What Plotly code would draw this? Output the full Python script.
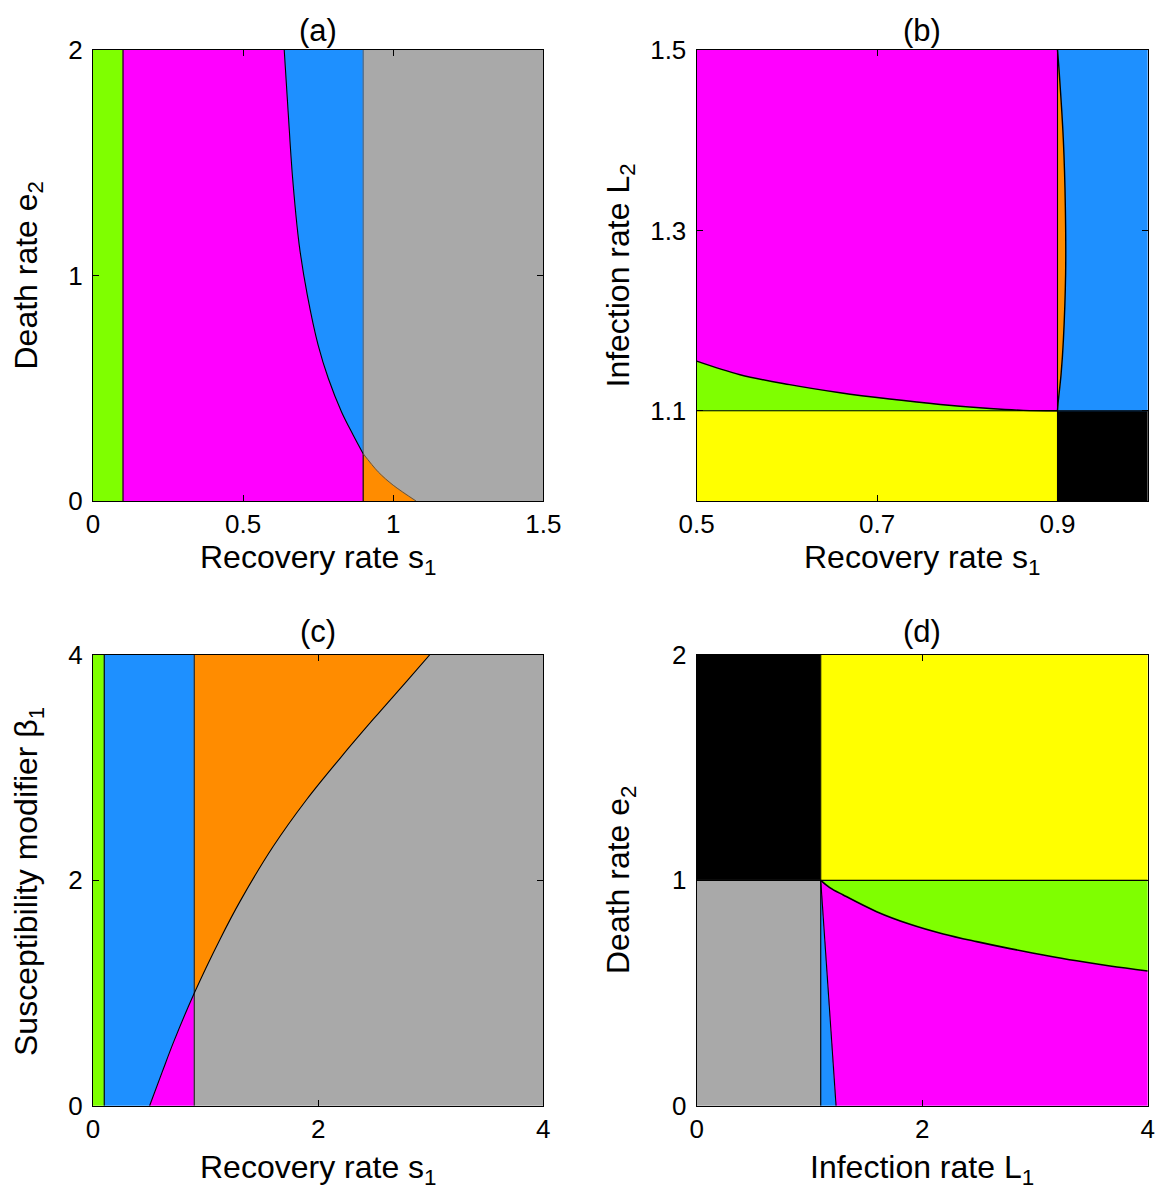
import plotly.graph_objects as go

# ---------------- data ----------------
# Panel (a): Recovery rate s1 vs Death rate e2
a_green_edge = 0.1
a_split = 0.9
a_curve_s1 = [0.637, 0.650, 0.665, 0.687, 0.714, 0.750, 0.784, 0.828, 0.867, 0.900]
a_curve_e2 = [2.000, 1.727, 1.431, 1.135, 0.913, 0.691, 0.543, 0.395, 0.292, 0.210]
a_tail_s1 = [0.900, 0.950, 1.000, 1.076]
a_tail_e2 = [0.210, 0.129, 0.070, 0.000]

# Panel (b): Recovery rate s1 vs Infection rate L2
b_split_s1 = 0.9
b_split_L2 = 1.1
b_curve_s1 = [0.500, 0.548, 0.603, 0.659, 0.714, 0.770, 0.825, 0.862, 0.900]
b_curve_L2 = [1.155, 1.140, 1.129, 1.120, 1.113, 1.107, 1.1025, 1.1005, 1.100]
b_lens_s1 = [0.900, 0.902, 0.9065, 0.9087, 0.909, 0.9065, 0.904, 0.9006, 0.900]
b_lens_L2 = [1.500, 1.474, 1.400, 1.326, 1.252, 1.178, 1.141, 1.108, 1.100]

# Panel (c): Recovery rate s1 vs Susceptibility modifier beta1
c_green_edge = 0.1
c_split = 0.9
c_curve_s1 = [0.503, 0.615, 0.720, 0.900, 1.130, 1.310, 1.600, 1.900, 2.200, 2.490, 2.780, 2.990]
c_curve_b1 = [0.000, 0.300, 0.575, 1.000, 1.480, 1.820, 2.300, 2.720, 3.090, 3.430, 3.760, 4.000]

# Panel (d): Infection rate L1 vs Death rate e2
d_split_L1 = 1.1
d_split_e2 = 1.0
d_sliver_L1 = 1.236
d_curve_L1 = [1.100, 1.180, 1.300, 1.596, 1.892, 2.187, 2.483, 2.779, 3.074, 3.370, 3.666, 4.000]
d_curve_e2 = [1.000, 0.968, 0.935, 0.861, 0.805, 0.762, 0.728, 0.697, 0.669, 0.643, 0.620, 0.598]

# axis ranges / ticks
a_xrange, a_yrange = [0, 1.5], [0, 2]
b_xrange, b_yrange = [0.5, 1.0], [1.0, 1.5]
c_xrange, c_yrange = [0, 4], [0, 4]
d_xrange, d_yrange = [0, 4], [0, 2]
a_xticks, a_xlabels = [0, 0.5, 1, 1.5], ["0", "0.5", "1", "1.5"]
a_yticks, a_ylabels = [0, 1, 2], ["0", "1", "2"]
b_xticks, b_xlabels = [0.5, 0.7, 0.9], ["0.5", "0.7", "0.9"]
b_yticks, b_ylabels = [1.1, 1.3, 1.5], ["1.1", "1.3", "1.5"]
c_xticks, c_xlabels = [0, 2, 4], ["0", "2", "4"]
c_yticks, c_ylabels = [0, 2, 4], ["0", "2", "4"]
d_xticks, d_xlabels = [0, 2, 4], ["0", "2", "4"]
d_yticks, d_ylabels = [0, 1, 2], ["0", "1", "2"]

GREEN = "#7FFF00"
MAGENTA = "#FF00FF"
BLUE = "#1E90FF"
GRAY = "#A9A9A9"
ORANGE = "#FF8C00"
YELLOW = "#FFFF00"
BLACK = "#000000"

fig = go.Figure()


def ax(n):
    return ("x" if n == 1 else f"x{n}"), ("y" if n == 1 else f"y{n}")


def poly(xs, ys, color, n):
    xa, ya = ax(n)
    fig.add_trace(go.Scatter(
        x=list(xs) + [xs[0]], y=list(ys) + [ys[0]], mode="lines", fill="toself",
        fillcolor=color, line=dict(color=color, width=0.6), hoverinfo="skip",
        showlegend=False, xaxis=xa, yaxis=ya))


def edge(xs, ys, n, smooth=False, color="black", width=1.1):
    xa, ya = ax(n)
    fig.add_trace(go.Scatter(
        x=list(xs), y=list(ys), mode="lines",
        line=dict(color=color, width=width, shape="spline" if smooth else "linear"),
        hoverinfo="skip", showlegend=False, xaxis=xa, yaxis=ya))


rev = lambda v: list(reversed(v))

# ---- panel (a)
x0, x1 = a_xrange
y0, y1 = a_yrange
poly([x0, a_green_edge, a_green_edge, x0], [y0, y0, y1, y1], GREEN, 1)
poly([a_green_edge, a_green_edge] + a_curve_s1 + [a_split],
     [y0, y1] + a_curve_e2 + [y0], MAGENTA, 1)
poly(a_curve_s1 + [a_split], a_curve_e2 + [y1], BLUE, 1)
poly(a_tail_s1 + [x1, x1, a_split], a_tail_e2 + [y0, y1, y1], GRAY, 1)
poly([a_split] + a_tail_s1, [y0] + a_tail_e2, ORANGE, 1)
edge([a_green_edge, a_green_edge], [y0, y1], 1)
edge([a_split, a_split], [y0, a_curve_e2[-1]], 1)
edge([a_split, a_split], [a_curve_e2[-1], y1], 1, color="#3a5a7a", width=1)
edge(a_curve_s1, a_curve_e2, 1, smooth=True)
edge(a_tail_s1, a_tail_e2, 1, smooth=True, color="#555555", width=1)

# ---- panel (b)
x0, x1 = b_xrange
y0, y1 = b_yrange
poly([x0, b_split_s1, b_split_s1, x0], [y0, y0, b_split_L2, b_split_L2], YELLOW, 2)
poly([b_split_s1, x1, x1, b_split_s1], [y0, y0, b_split_L2, b_split_L2], BLACK, 2)
poly([x0] + b_curve_s1, [b_split_L2] + b_curve_L2, GREEN, 2)
poly(b_curve_s1 + [b_split_s1, x0], b_curve_L2 + [y1, y1], MAGENTA, 2)
poly(b_lens_s1 + [x1, x1], b_lens_L2 + [b_split_L2, y1], BLUE, 2)
poly(b_lens_s1 + [b_split_s1], b_lens_L2 + [y1], ORANGE, 2)
edge([x0, x1], [b_split_L2, b_split_L2], 2)
edge([b_split_s1, b_split_s1], [y0, y1], 2)
edge(b_curve_s1, b_curve_L2, 2, smooth=True, width=1.4)
edge(b_lens_s1, b_lens_L2, 2, smooth=True, width=1.4)

# ---- panel (c)
x0, x1 = c_xrange
y0, y1 = c_yrange
ci = c_curve_s1.index(c_split)
poly([x0, c_green_edge, c_green_edge, x0], [y0, y0, y1, y1], GREEN, 3)
poly([c_green_edge, c_green_edge, c_split] + rev(c_curve_s1[:ci + 1]),
     [y0, y1, y1] + rev(c_curve_b1[:ci + 1]), BLUE, 3)
poly(c_curve_s1[:ci + 1] + [c_split], c_curve_b1[:ci + 1] + [y0], MAGENTA, 3)
poly(c_curve_s1[ci:] + [c_split], c_curve_b1[ci:] + [y1], ORANGE, 3)
poly([c_split] + c_curve_s1[ci:] + [x1, x1], [y0] + c_curve_b1[ci:] + [y1, y0], GRAY, 3)
edge([c_green_edge, c_green_edge], [y0, y1], 3)
edge([c_split, c_split], [y0, y1], 3, color="#333333", width=1.3)
edge(c_curve_s1, c_curve_b1, 3, smooth=True)

# ---- panel (d)
x0, x1 = d_xrange
y0, y1 = d_yrange
poly([x0, d_split_L1, d_split_L1, x0], [d_split_e2, d_split_e2, y1, y1], BLACK, 4)
poly([d_split_L1, x1, x1, d_split_L1], [d_split_e2, d_split_e2, y1, y1], YELLOW, 4)
poly([x0, d_split_L1, d_split_L1, x0], [y0, y0, d_split_e2, d_split_e2], GRAY, 4)
poly([d_split_L1, d_sliver_L1, d_split_L1], [y0, y0, d_split_e2], BLUE, 4)
poly([d_sliver_L1, x1] + rev(d_curve_L1), [y0, y0] + rev(d_curve_e2), MAGENTA, 4)
poly(d_curve_L1 + [x1], d_curve_e2 + [d_split_e2], GREEN, 4)
edge([x0, x1], [d_split_e2, d_split_e2], 4)
edge([d_split_L1, d_split_L1], [y0, y1], 4)
edge([d_split_L1, d_sliver_L1], [d_split_e2, y0], 4)
edge(d_curve_L1, d_curve_e2, 4, smooth=True, width=1.6)

# ---------------- layout ----------------
W, H = 1161, 1191
FONT = "Arial, Liberation Sans, Helvetica, sans-serif"
L_COL = [93 / W, 543.3 / W]
R_COL = [696.7 / W, 1147.7 / W]
T_ROW = [1 - 501 / H, 1 - 50 / H]
B_ROW = [1 - 1105.7 / H, 1 - 655 / H]


def axis(dom, rng, tv, tt, anchor, standoff=0):
    return dict(domain=dom, range=rng, tickvals=tv, ticktext=tt, anchor=anchor,
                automargin=False, ticklabelstandoff=standoff,
                showline=True, linecolor="black", linewidth=1.3, mirror="ticks",
                ticks="inside", ticklen=6, tickwidth=1, tickcolor="black",
                showgrid=False, zeroline=False, fixedrange=True,
                tickfont=dict(family=FONT, size=26, color="black"),
                layer="above traces")


layout = dict(
    template="none",
    width=W, height=H, margin=dict(l=0, r=0, t=0, b=0, pad=0),
    paper_bgcolor="white", plot_bgcolor="white", showlegend=False,
    xaxis=axis(L_COL, a_xrange, a_xticks, a_xlabels, "y"),
    yaxis=axis(T_ROW, a_yrange, a_yticks, a_ylabels, "x", 4),
    xaxis2=axis(R_COL, b_xrange, b_xticks, b_xlabels, "y2"),
    yaxis2=axis(T_ROW, b_yrange, b_yticks, b_ylabels, "x2", 4),
    xaxis3=axis(L_COL, c_xrange, c_xticks, c_xlabels, "y3"),
    yaxis3=axis(B_ROW, c_yrange, c_yticks, c_ylabels, "x3", 4),
    xaxis4=axis(R_COL, d_xrange, d_xticks, d_xlabels, "y4"),
    yaxis4=axis(B_ROW, d_yrange, d_yticks, d_ylabels, "x4", 4),
)
fig.update_layout(**layout)


def note(text, x, y, size, angle=0):
    fig.add_annotation(text=text, x=x / W, y=1 - y / H, xref="paper", yref="paper",
                       showarrow=False, xanchor="center", yanchor="middle",
                       textangle=angle, font=dict(family=FONT, size=size, color="black"))


lc = (93 + 543.3) / 2
rc = (696.7 + 1147.7) / 2
note("(a)", lc, 30, 31)
note("(b)", rc, 30, 31)
note("(c)", lc, 631, 31)
note("(d)", rc, 631, 31)
note("Recovery rate s<sub>1</sub>", lc, 559, 32)
note("Recovery rate s<sub>1</sub>", rc, 559, 32)
note("Recovery rate s<sub>1</sub>", lc, 1169, 32)
note("Infection rate L<sub>1</sub>", rc, 1169, 32)
note("Death rate e<sub>2</sub>", 28, 275.5, 32, -90)
note("Infection rate L<sub>2</sub>", 620, 275.5, 32, -90)
note("Susceptibility modifier β<sub>1</sub>", 28, 882, 32, -90)
note("Death rate e<sub>2</sub>", 620, 880, 32, -90)

fig.write_html(
    "out.html",
    config={"displayModeBar": False},
    post_script="document.body.style.margin='0';document.body.style.overflow='hidden';",
)
